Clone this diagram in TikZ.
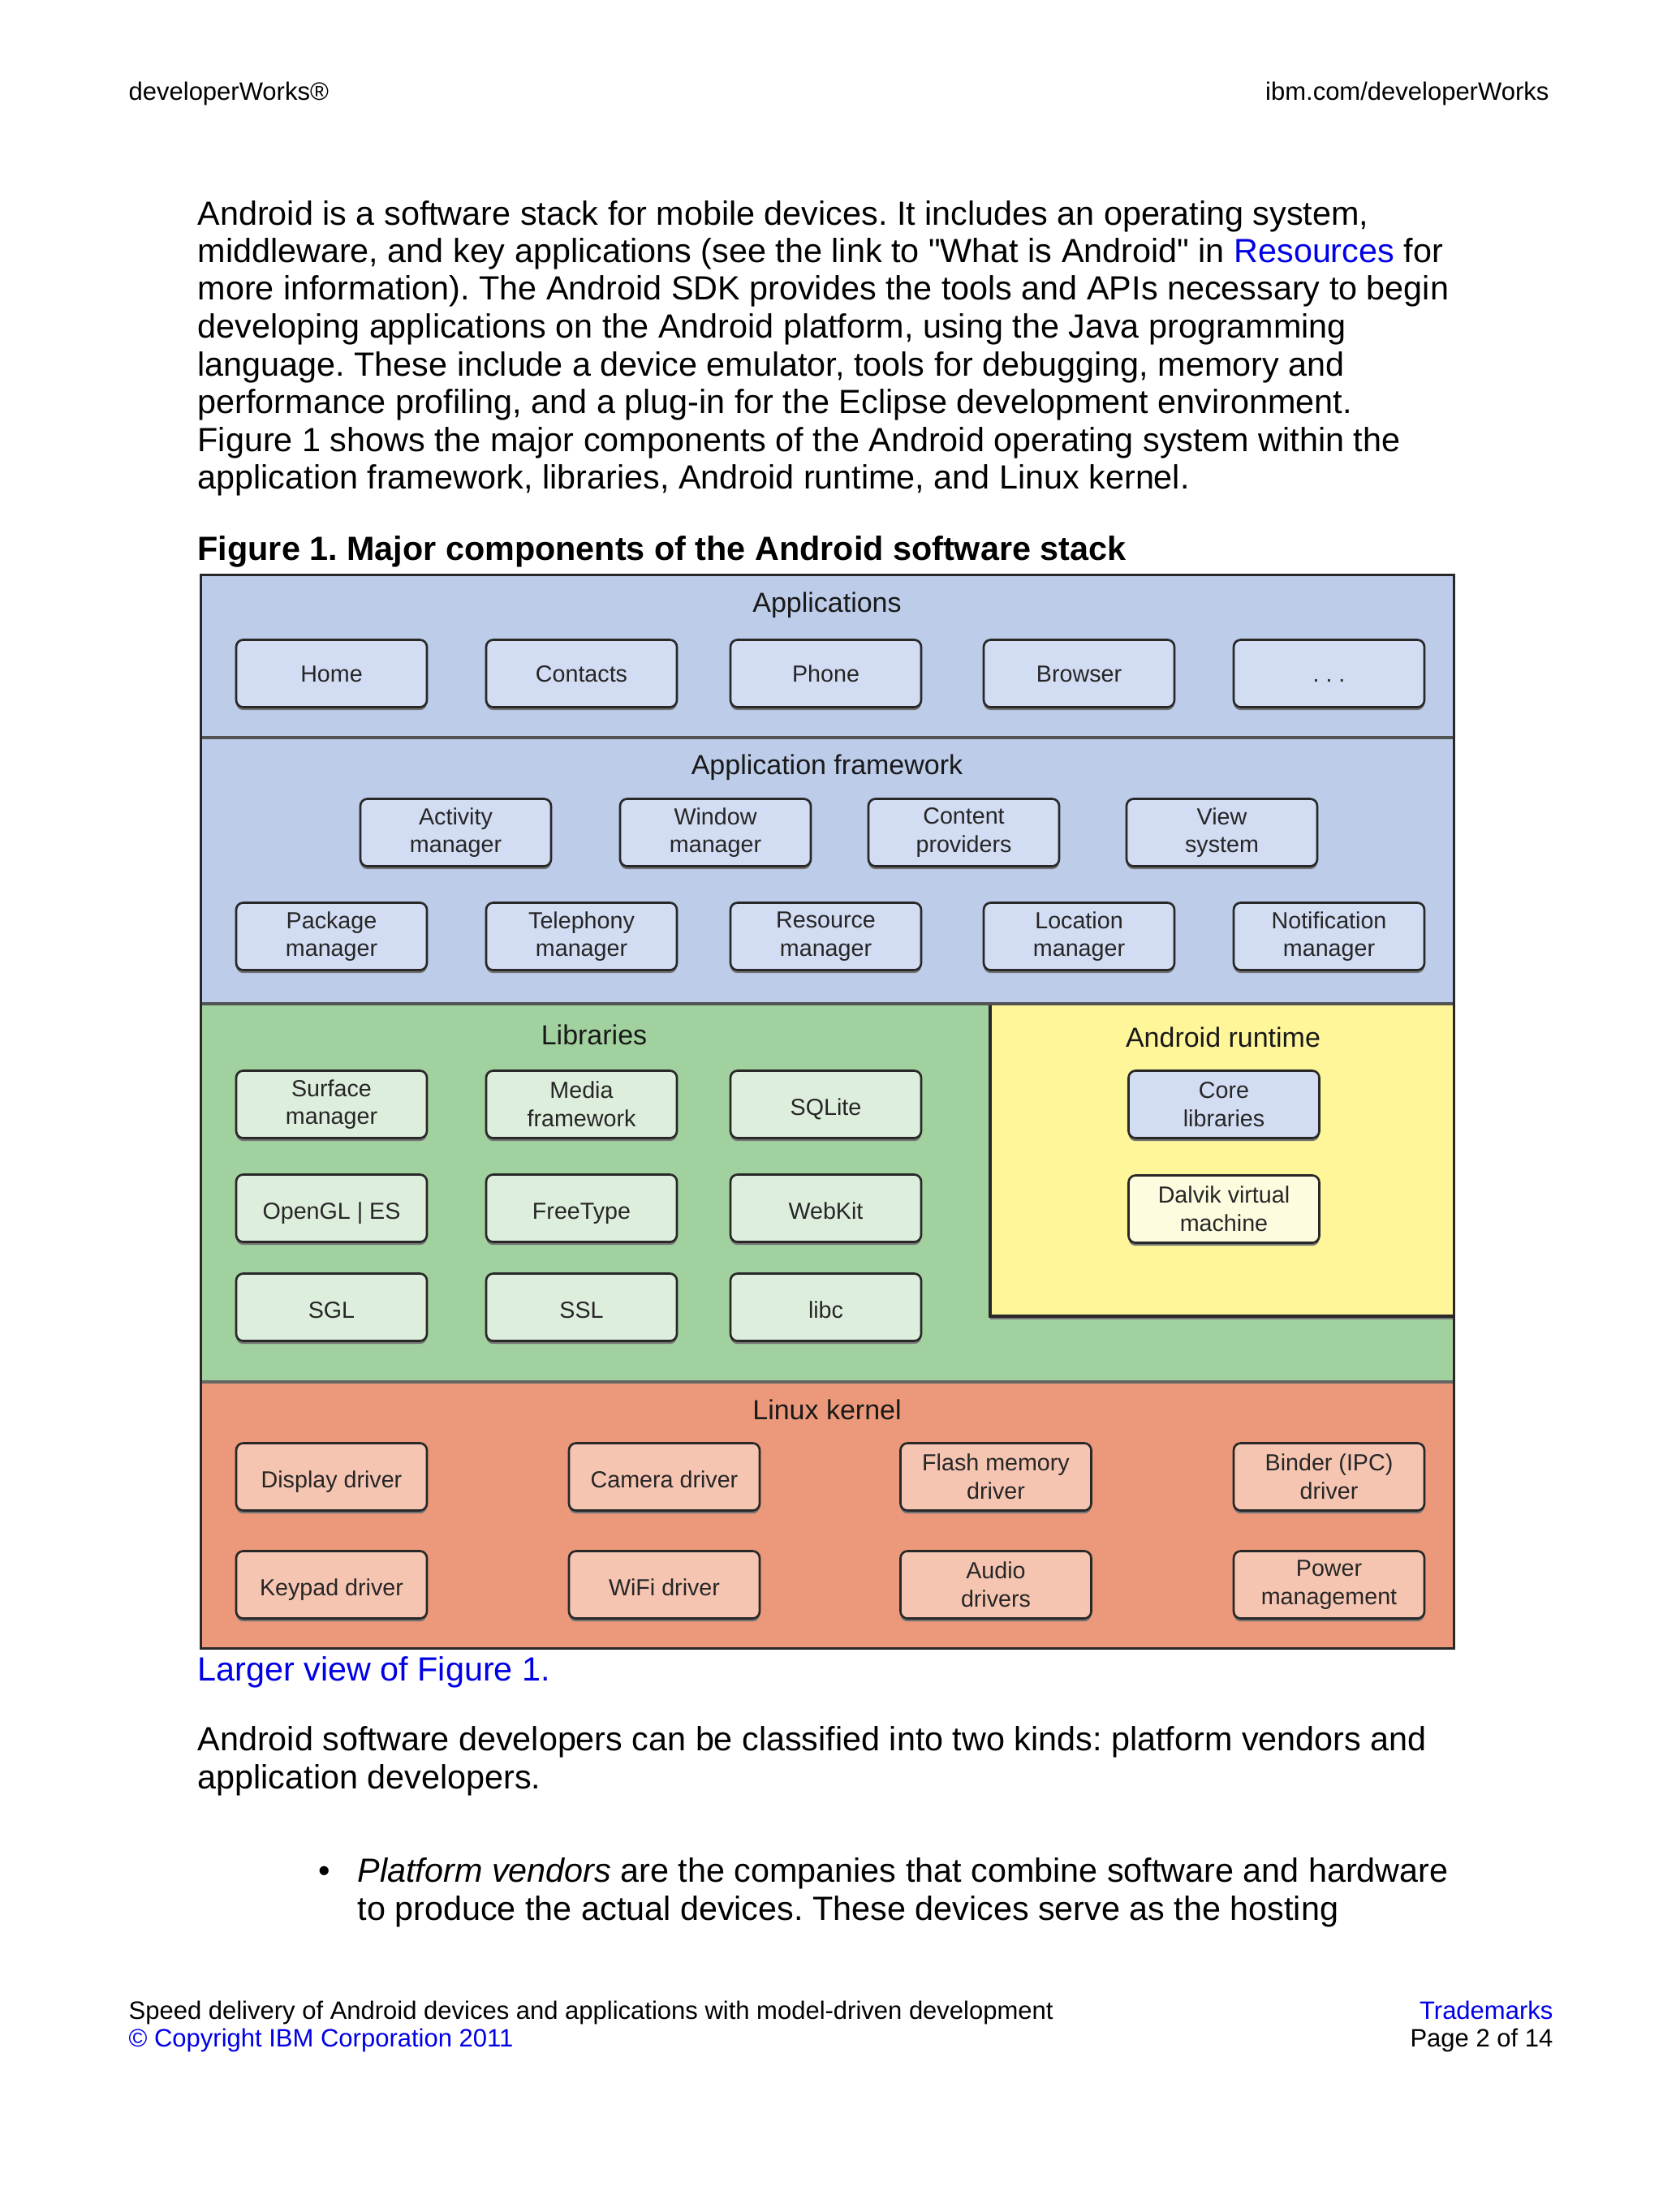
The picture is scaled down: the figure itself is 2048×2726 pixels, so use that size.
\documentclass[tikz,border=0pt]{standalone}
\usepackage{fontspec}
\setmainfont{Liberation Sans}[Ligatures=TeXOff]
\usetikzlibrary{shadows}
\frenchspacing
\definecolor{linkblue}{RGB}{0,0,230}
\definecolor{bgblue}{RGB}{188,204,233}
\definecolor{bxblue}{RGB}{210,220,242}
\definecolor{bggreen}{RGB}{161,209,158}
\definecolor{bxgreen}{RGB}{222,238,221}
\definecolor{bgyellow}{RGB}{255,245,153}
\definecolor{bxyellow}{RGB}{254,252,223}
\definecolor{bgsalmon}{RGB}{236,152,122}
\definecolor{bxsalmon}{RGB}{246,197,178}
\definecolor{frame}{RGB}{40,40,40}
\newcommand\bodyfont{\fontsize{12.4}{14}\selectfont}
\newcommand\smallhdr{\fontsize{9.3}{11}\selectfont}
\tikzset{
  bodyline/.style={anchor=base west, inner sep=0pt, font=\bodyfont},
  hdrline/.style={inner sep=0pt, font=\smallhdr},
  comp/.style={draw=frame, line width=0.8pt, rounded corners=2.6pt,
    minimum width=70.5pt, minimum height=24.9pt, inner sep=0pt, align=center,
    text=black!85, font=\fontsize{8.6}{10.4}\selectfont,
    drop shadow={shadow xshift=0pt, shadow yshift=-1.1pt, fill=black!55, opacity=1}},
  oneapp/.style={text height=7.6pt, text depth=1.4pt},
  onelow/.style={text height=9pt, text depth=0.8pt},
  secttl/.style={inner sep=0pt, text=black!90, font=\fontsize{10.2}{12}\selectfont},
  bluebox/.style={comp, fill=bxblue},
  greenbox/.style={comp, fill=bxgreen},
  salmonbox/.style={comp, fill=bxsalmon},
  yelbox/.style={comp, fill=bxyellow},
}
\begin{document}
\begin{tikzpicture}[x=0.3pt, y=-0.3pt]
\useasboundingbox (0,0) rectangle (2048,2726);
\fill[white] (0,0) rectangle (2048,2726);

% header
\node[hdrline, anchor=base west] (hl) at (158,124) {developerWorks®};
\node[hdrline, anchor=base east] (hr) at (1909,124) {ibm.com/developerWorks};

% body text
\node[bodyline] (b1) at (243,278) {Android is a software stack for mobile devices. It includes an operating system,};
\node[bodyline] (b2) at (243,324) {middleware, and key applications (see the link to "What is Android" in {\color{linkblue}Resources} for};
\node[bodyline] (b3) at (243,370) {more information). The Android SDK provides the tools and APIs necessary to begin};
\node[bodyline] (b4) at (243,417) {developing applications on the Android platform, using the Java programming};
\node[bodyline] (b5) at (243,464) {language. These include a device emulator, tools for debugging, memory and};
\node[bodyline] (b6) at (243,510) {performance profiling, and a plug-in for the Eclipse development environment.};
\node[bodyline] (b7) at (243,556) {Figure 1 shows the major components of the Android operating system within the};
\node[bodyline] (b8) at (243,603) {application framework, libraries, Android runtime, and Linux kernel.};

\node[bodyline, font=\bodyfont\bfseries] (ttl) at (243,690) {Figure 1. Major components of the Android software stack};

% figure backgrounds
\fill[bgblue] (247,708) rectangle (1791,1237);
\fill[bggreen] (247,1237) rectangle (1791,1703);
\fill[bgsalmon] (247,1703) rectangle (1791,2031);
\fill[black!55] (1220,1237) rectangle (1793,1626);
\fill[bgyellow] (1220,1237) rectangle (1791,1622);
\draw[frame, line width=1pt] (1220,1237) -- (1220,1622) -- (1791,1622);
\draw[frame!80, line width=1.2pt] (247,909) -- (1791,909);
\draw[frame!80, line width=1.2pt] (247,1237) -- (1791,1237);
\draw[black!60, line width=1.2pt] (247,1703) -- (1791,1703);
\draw[frame, line width=0.9pt] (247,708) rectangle (1791,2031);

% section titles
\node[secttl] (tapps) at (1019,746) {Applications};
\node[secttl] (tfw) at (1019,946) {Application framework};
\node[secttl] (tlib) at (732,1275) {Libraries};
\node[secttl] (trt) at (1507,1278) {Android runtime};
\node[secttl] (tlk) at (1019,1737) {Linux kernel};

% applications
\node[bluebox, oneapp] (home) at (408.5,830) {Home};
\node[bluebox, oneapp] (contacts) at (716.5,830) {Contacts};
\node[bluebox, oneapp] (phone) at (1017.5,830) {Phone};
\node[bluebox, oneapp] (browser) at (1329.5,830) {Browser};
\node[bluebox, oneapp] (more) at (1637.5,830) {. . .};

% application framework
\node[bluebox] (act) at (561.5,1026) {Activity\\manager};
\node[bluebox] (win) at (881.5,1026) {Window\\manager};
\node[bluebox] (cp) at (1187.5,1026) {Content\\providers};
\node[bluebox] (view) at (1505.5,1026) {View\\system};
\node[bluebox] (pkg) at (408.5,1154) {Package\\manager};
\node[bluebox] (tel) at (716.5,1154) {Telephony\\manager};
\node[bluebox] (res) at (1017.5,1154) {Resource\\manager};
\node[bluebox] (loc) at (1329.5,1154) {Location\\manager};
\node[bluebox] (notif) at (1637.5,1154) {Notification\\manager};

% libraries
\node[greenbox] (surf) at (408.5,1361) {Surface\\manager};
\node[greenbox] (media) at (716.5,1361) {Media\\framework};
\node[greenbox, onelow] (sqlite) at (1017.5,1361) {SQLite};
\node[greenbox, onelow] (opengl) at (408.5,1489) {OpenGL | ES};
\node[greenbox, onelow] (ft) at (716.5,1489) {FreeType};
\node[greenbox, onelow] (webkit) at (1017.5,1489) {WebKit};
\node[greenbox, onelow] (sgl) at (408.5,1611) {SGL};
\node[greenbox, onelow] (ssl) at (716.5,1611) {SSL};
\node[greenbox, onelow] (libc) at (1017.5,1611) {libc};

% android runtime
\node[bluebox] (core) at (1508,1361) {Core\\libraries};
\node[yelbox] (dalvik) at (1508,1490) {Dalvik virtual\\machine};

% linux kernel
\node[salmonbox, onelow] (disp) at (408.5,1820) {Display driver};
\node[salmonbox, onelow] (cam) at (818.5,1820) {Camera driver};
\node[salmonbox] (flash) at (1227,1820) {Flash memory\\driver};
\node[salmonbox] (binder) at (1637.5,1820) {Binder (IPC)\\driver};
\node[salmonbox, onelow] (key) at (408.5,1953) {Keypad driver};
\node[salmonbox, onelow] (wifi) at (818.5,1953) {WiFi driver};
\node[salmonbox] (audio) at (1227,1953) {Audio\\drivers};
\node[salmonbox] (power) at (1637.5,1953) {Power\\management};

% after figure
\node[bodyline, text=linkblue] (larger) at (243,2071) {Larger view of Figure 1.};
\node[bodyline] (a1) at (243,2157) {Android software developers can be classified into two kinds: platform vendors and};
\node[bodyline] (a2) at (243,2204) {application developers.};
\node[bodyline] (bul) at (392,2319) {•};
\node[bodyline] (c1) at (440,2319) {\textit{Platform vendors} are the companies that combine software and hardware};
\node[bodyline] (c2) at (440,2366) {to produce the actual devices. These devices serve as the hosting};

% footer
\node[hdrline, anchor=base west] (f1) at (158,2488) {Speed delivery of Android devices and applications with model-driven development};
\node[hdrline, anchor=base west, text=linkblue] (f2) at (158,2522) {© Copyright IBM Corporation 2011};
\node[hdrline, anchor=base east, text=linkblue] (f3) at (1914,2488) {Trademarks};
\node[hdrline, anchor=base east] (f4) at (1914,2522) {Page 2 of 14};
\end{tikzpicture}
\end{document}
